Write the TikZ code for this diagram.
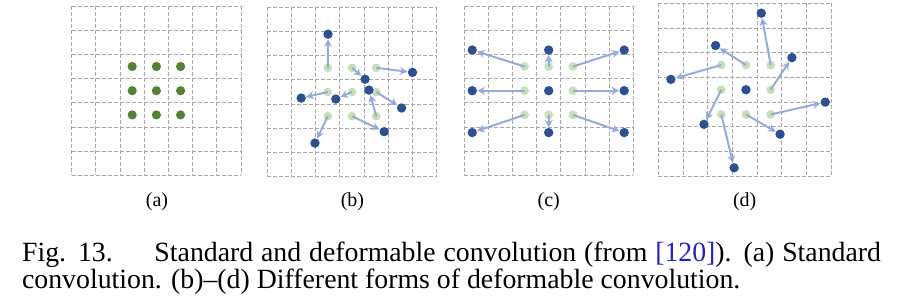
\documentclass[tikz,border=0pt]{standalone}
\usepackage{fontspec}
\setmainfont{Liberation Serif}
\usepackage{xcolor}
\usetikzlibrary{arrows.meta}

\definecolor{gridgray}{RGB}{168,168,168}
\definecolor{stdgreen}{RGB}{84,130,53}
\definecolor{origgreen}{RGB}{200,224,182}
\definecolor{movedblue}{RGB}{45,80,145}
\definecolor{arrowblue}{RGB}{150,172,216}
\definecolor{citeblue}{RGB}{35,35,190}

\begin{document}
\begin{tikzpicture}[x=0.5pt,y=-0.5pt,
  gridline/.style={gridgray, line width=0.5pt, dash pattern=on 2pt off 1pt},
  stddot/.style={circle, fill=stdgreen, inner sep=0pt, minimum size=4.6pt},
  origdot/.style={circle, fill=origgreen, inner sep=0pt, minimum size=4.4pt},
  moveddot/.style={circle, fill=movedblue, inner sep=0pt, minimum size=4.7pt},
  offsetarrow/.style={arrowblue, line width=1pt, -{Stealth[length=3.8pt,width=4pt]}},
  sublabel/.style={font=\fontsize{10}{12}\selectfont, anchor=base, inner sep=0pt},
  caption/.style={font=\fontsize{13.9}{13.3}\selectfont, anchor=base west, inner sep=0pt}]
  \useasboundingbox (0,0) rectangle (902,297);

  % (a) standard sampling grid
  \begin{scope}[shift={(71.7,6)}, x=12.1pt, y=-12.1pt]
    \foreach \k in {0,...,7} {
      \draw[gridline] (\k,0) -- (\k,7);
      \draw[gridline] (0,\k) -- (7,\k);
    }
    \foreach \i in {1,2,3}
      \foreach \j in {1,2,3}
        \node[stddot] (a\i\j) at (\i+1.5,\j+1.5) {};
  \end{scope}

  % (b) free offsets
  \begin{scope}[shift={(267.3,7.3)}, x=12.1pt, y=-12.1pt]
    \foreach \k in {0,...,7} {
      \draw[gridline] (\k,0) -- (\k,7);
      \draw[gridline] (0,\k) -- (7,\k);
    }
    \foreach \i in {1,2,3}
      \foreach \j in {1,2,3}
        \node[origdot] (b\i\j) at (\i+1.5,\j+1.5) {};
    \node[moveddot] (bd11) at (2.51,1.11) {};
    \node[moveddot] (bd21) at (4.04,2.97) {};
    \node[moveddot] (bd31) at (6.00,2.69) {};
    \node[moveddot] (bd12) at (1.40,3.75) {};
    \node[moveddot] (bd22) at (2.83,3.79) {};
    \node[moveddot] (bd32) at (5.55,4.16) {};
    \node[moveddot] (bd13) at (1.97,5.61) {};
    \node[moveddot] (bd23) at (4.83,5.14) {};
    \node[moveddot] (bd33) at (4.20,3.42) {};
    \foreach \i in {1,2,3}
      \foreach \j in {1,2,3}
        \draw[offsetarrow] (b\i\j.center) -- (bd\i\j);
  \end{scope}

  % (c) scaled sampling
  \begin{scope}[shift={(464,6)}, x=12.1pt, y=-12.1pt]
    \foreach \k in {0,...,7} {
      \draw[gridline] (\k,0) -- (\k,7);
      \draw[gridline] (0,\k) -- (7,\k);
    }
    \foreach \i in {1,2,3}
      \foreach \j in {1,2,3}
        \node[origdot] (c\i\j) at (\i+1.5,\j+1.5) {};
    \node[moveddot] (cd11) at (0.34,1.82) {};
    \node[moveddot] (cd21) at (3.50,1.82) {};
    \node[moveddot] (cd31) at (6.62,1.82) {};
    \node[moveddot] (cd12) at (0.34,3.50) {};
    \node[moveddot] (cd22) at (3.50,3.50) {};
    \node[moveddot] (cd32) at (6.62,3.50) {};
    \node[moveddot] (cd13) at (0.34,5.23) {};
    \node[moveddot] (cd23) at (3.50,5.23) {};
    \node[moveddot] (cd33) at (6.62,5.23) {};
    \foreach \i/\j in {1/1,2/1,3/1,1/2,3/2,1/3,2/3,3/3}
      \draw[offsetarrow] (c\i\j.center) -- (cd\i\j);
  \end{scope}

  % (d) rotated sampling
  \begin{scope}[shift={(658.3,3.3)}, x=12.35pt, y=-12.35pt]
    \foreach \k in {0,...,7} {
      \draw[gridline] (\k,0) -- (\k,7);
      \draw[gridline] (0,\k) -- (7,\k);
    }
    \foreach \i in {1,2,3}
      \foreach \j in {1,2,3}
        \node[origdot] (d\i\j) at (\i+1.55,\j+1.5) {};
    \node[moveddot] (dd11) at (0.51,3.08) {};
    \node[moveddot] (dd21) at (2.32,1.71) {};
    \node[moveddot] (dd31) at (4.17,0.40) {};
    \node[moveddot] (dd12) at (1.85,4.90) {};
    \node[moveddot] (dd22) at (3.55,3.50) {};
    \node[moveddot] (dd32) at (5.41,2.20) {};
    \node[moveddot] (dd13) at (3.07,6.66) {};
    \node[moveddot] (dd23) at (4.93,5.30) {};
    \node[moveddot] (dd33) at (6.76,4.00) {};
    \foreach \i/\j in {1/1,2/1,3/1,1/2,3/2,1/3,2/3,3/3}
      \draw[offsetarrow] (d\i\j.center) -- (dd\i\j);
  \end{scope}

  % Panel labels
  \node[sublabel] (labela) at (157,206) {(a)};
  \node[sublabel] (labelb) at (352.5,206) {(b)};
  \node[sublabel] (labelc) at (548.7,206) {(c)};
  \node[sublabel] (labeld) at (744.7,206) {(d)};

  % Caption
  \node[caption] (capline1) at (21.7,261.7) {\makebox[429.5pt][s]{Fig. 13.\hspace{1.5em}Standard and deformable convolution (from \textcolor{citeblue}{[120]}). (a) Standard}};
  \node[caption] (capline2) at (21.7,288) {convolution. (b)--(d) Different forms of deformable convolution.};
\end{tikzpicture}
\end{document}
